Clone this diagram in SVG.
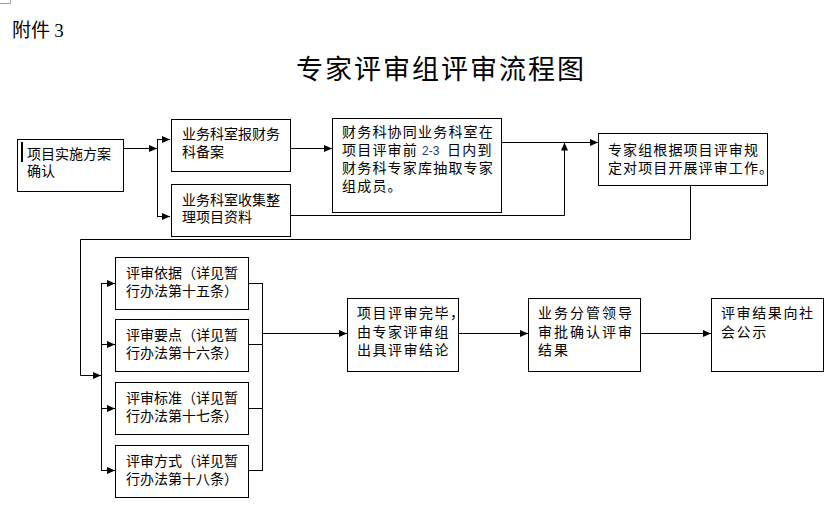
<svg xmlns="http://www.w3.org/2000/svg" width="839" height="509" viewBox="0 0 839 509">
<style>
.bg{fill:#ffffff}
.box{fill:#ffffff;stroke:#000000;stroke-width:1}
.t{font-family:"Noto Sans CJK SC","Liberation Sans",sans-serif;font-size:14px;fill:#000000}
.ln{fill:none;stroke:#000000;stroke-width:1}
.ar{marker-end:url(#ah)}
</style>
<defs>
<marker id="ah" markerUnits="userSpaceOnUse" markerWidth="8" markerHeight="7" refX="8" refY="3.5" orient="auto">
<path d="M0,0 L8,3.5 L0,7 z" fill="#000000"/>
</marker>
</defs>
<rect class="bg" x="0" y="0" width="839" height="509"/>
<path d="M0,3.5 H10.5 V0" fill="none" stroke="#a0a0a0" stroke-width="1"/>
<text x="12" y="37" style="font-family:'Noto Sans CJK SC',sans-serif;font-size:19px">附件 <tspan style="font-family:'Liberation Serif',serif">3</tspan></text>
<text x="296" y="79" style="font-family:'Noto Sans CJK SC',sans-serif;font-size:27px;letter-spacing:2px">专家评审组评审流程图</text>

<g id="connectors">
<path class="ln ar" d="M123,148.5 H157"/>
<path class="ln" d="M157.5,139 V216"/>
<path class="ln ar" d="M157,139.5 H170"/>
<path class="ln ar" d="M157,216.5 H170"/>
<path class="ln ar" d="M290,148.5 H332"/>
<path class="ln ar" d="M501,142.5 H598"/>
<path class="ln ar" d="M290,215.5 H564.5 V142.5"/>
<path class="ln ar" d="M690.5,185 V239.5 H80.5 V375.5 H101"/>
<path class="ln" d="M101.5,283 V471"/>
<path class="ln ar" d="M101,283.5 H115"/>
<path class="ln ar" d="M101,344.5 H115"/>
<path class="ln ar" d="M101,408.5 H115"/>
<path class="ln ar" d="M101,470.5 H115"/>
<path class="ln" d="M248,283.5 H262.5 M248,344.5 H262.5 M248,408.5 H262.5 M248,470.5 H262.5 M262.5,283 V471"/>
<path class="ln ar" d="M262,333.5 H347"/>
<path class="ln ar" d="M458,333.5 H528"/>
<path class="ln ar" d="M640,333.5 H711"/>
</g>

<g id="n1">
<rect class="box" x="17.5" y="139.5" width="106" height="52"/>
<rect x="21" y="142" width="2" height="20" fill="#000000"/>
<text class="t"><tspan x="27" y="159">项目实施方案</tspan><tspan x="27" y="176">确认</tspan></text>
</g>
<g id="n2">
<rect class="box" x="171.5" y="119.5" width="119" height="52"/>
<text class="t"><tspan x="182" y="139">业务科室报财务</tspan><tspan x="182" y="157">科备案</tspan></text>
</g>
<g id="n3">
<rect class="box" x="171.5" y="184.5" width="119" height="52"/>
<text class="t"><tspan x="182" y="205">业务科室收集整</tspan><tspan x="182" y="222">理项目资料</tspan></text>
</g>
<g id="n4">
<rect class="box" x="332.5" y="118.5" width="169" height="94"/>
<text class="t" style="letter-spacing:1.2px"><tspan x="342" y="137">财务科协同业务科室在</tspan><tspan x="342" y="155">项目评审前</tspan><tspan x="422" y="155" style="font-family:'Liberation Sans',sans-serif;font-size:12px;fill:#1f3b8c;letter-spacing:0">2-3</tspan><tspan x="447" y="155">日内到</tspan><tspan x="342" y="173">财务科专家库抽取专家</tspan><tspan x="342" y="191">组成员。</tspan></text>
</g>
<g id="n5">
<rect class="box" x="598.5" y="133.5" width="169" height="52"/>
<text class="t" style="letter-spacing:1.1px"><tspan x="608" y="155">专家组根据项目评审规</tspan><tspan x="608" y="173">定对项目开展评审工作。</tspan></text>
</g>
<g id="r1">
<rect class="box" x="115.5" y="257.5" width="133" height="52"/>
<text class="t"><tspan x="126" y="278">评审依据（详见暂</tspan><tspan x="126" y="296">行办法第十五条）</tspan></text>
</g>
<g id="r2">
<rect class="box" x="115.5" y="319.5" width="133" height="52"/>
<text class="t"><tspan x="126" y="340">评审要点（详见暂</tspan><tspan x="126" y="358">行办法第十六条）</tspan></text>
</g>
<g id="r3">
<rect class="box" x="115.5" y="382.5" width="133" height="52"/>
<text class="t"><tspan x="126" y="403">评审标准（详见暂</tspan><tspan x="126" y="421">行办法第十七条）</tspan></text>
</g>
<g id="r4">
<rect class="box" x="115.5" y="445.5" width="133" height="52"/>
<text class="t"><tspan x="126" y="466">评审方式（详见暂</tspan><tspan x="126" y="484">行办法第十八条）</tspan></text>
</g>
<g id="n6">
<rect class="box" x="347.5" y="298.5" width="111" height="73"/>
<text class="t" style="letter-spacing:1.5px"><tspan x="357" y="318">项目评审完毕，</tspan><tspan x="357" y="337">由专家评审组</tspan><tspan x="357" y="355">出具评审结论</tspan></text>
</g>
<g id="n7">
<rect class="box" x="528.5" y="298.5" width="112" height="73"/>
<text class="t" style="letter-spacing:2px"><tspan x="538" y="318">业务分管领导</tspan><tspan x="538" y="337">审批确认评审</tspan><tspan x="538" y="355">结果</tspan></text>
</g>
<g id="n8">
<rect class="box" x="711.5" y="298.5" width="112" height="73"/>
<text class="t" style="letter-spacing:1.6px"><tspan x="721" y="318">评审结果向社</tspan><tspan x="721" y="337">会公示</tspan></text>
</g>
</svg>
